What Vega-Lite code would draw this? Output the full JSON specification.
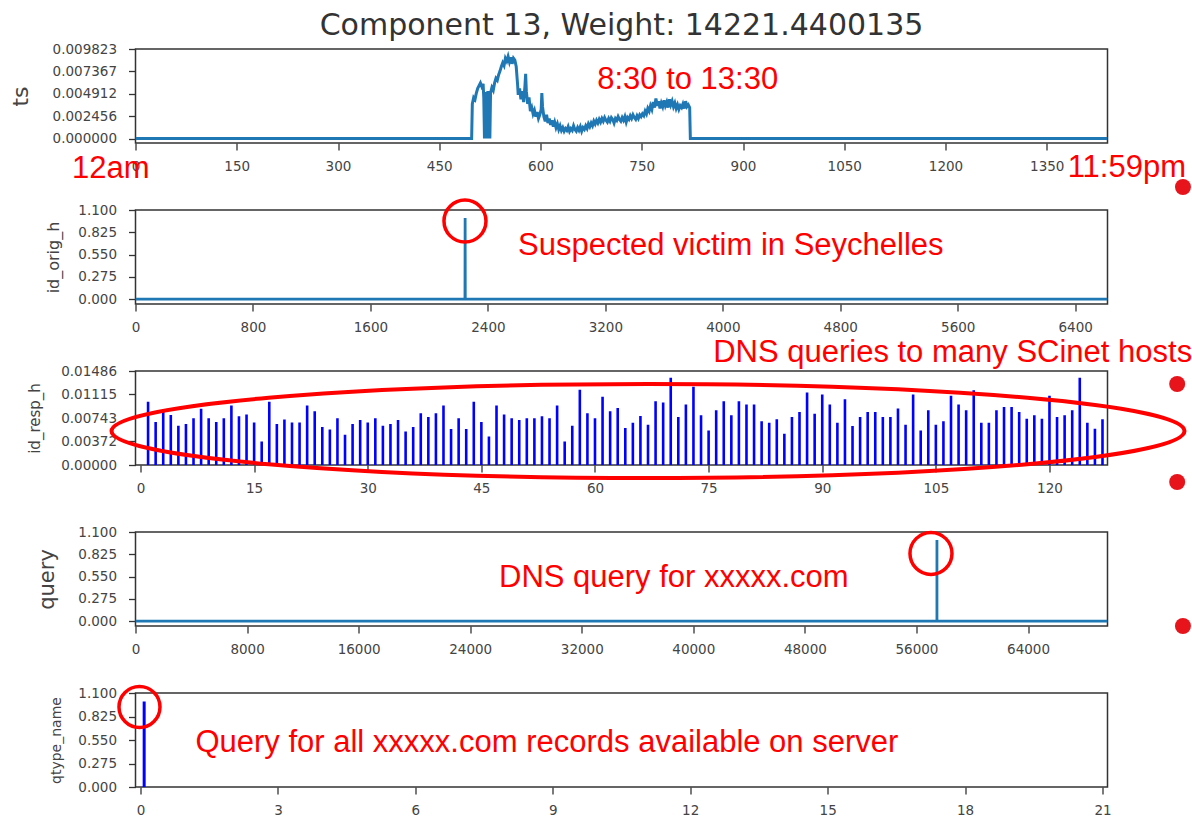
{
  "$schema": "https://vega.github.io/schema/vega-lite/v6.json",
  "background": "white",
  "padding": {"left": 8.5, "top": 10, "right": 0, "bottom": 0},
  "spacing": 67,
  "bounds": "flush",
  "config": {
    "view": {"stroke": "#333", "strokeWidth": 1.5},
    "axis": {"domain": false, "grid": false, "tickColor": "#333", "tickWidth": 1.3, "tickCount": 20, "labelFont": "DejaVu Sans", "labelFontSize": 13.5, "labelColor": "#444", "titleFont": "DejaVu Sans", "titleFontWeight": "normal", "titleColor": "#444", "labelOverlap": false, "labelFlush": false, "labelBound": false},
    "axisX": {"tickSize": 7, "labelPadding": 9, "format": "d"},
    "axisY": {"tickSize": 7, "labelPadding": 12, "titleBaseline": "alphabetic"}
  },
  "datasets": {
    "ts": [
      {"minute": 0, "value": 0}, {"minute": 498, "value": 0}, {"minute": 499, "value": 0.0038}, {"minute": 501, "value": 0.0045}, {"minute": 503, "value": 0.0043}, {"minute": 505, "value": 0.005}, {"minute": 507, "value": 0.0055}, {"minute": 509, "value": 0.0058}, {"minute": 511, "value": 0.0061}, {"minute": 513, "value": 0.0057}, {"minute": 515, "value": 0.006}, {"minute": 516, "value": 0.0044}, {"minute": 517, "value": 0}, {"minute": 518, "value": 0.0051}, {"minute": 519, "value": 0}, {"minute": 520, "value": 0.0048}, {"minute": 521, "value": 0}, {"minute": 522, "value": 0.0052}, {"minute": 523, "value": 0}, {"minute": 524, "value": 0.0049}, {"minute": 525, "value": 0}, {"minute": 526, "value": 0.005}, {"minute": 528, "value": 0.0056}, {"minute": 530, "value": 0.0053}, {"minute": 532, "value": 0.0061}, {"minute": 534, "value": 0.0066}, {"minute": 536, "value": 0.0064}, {"minute": 538, "value": 0.007}, {"minute": 540, "value": 0.0074}, {"minute": 542, "value": 0.0079}, {"minute": 544, "value": 0.0083}, {"minute": 546, "value": 0.008}, {"minute": 548, "value": 0.0088}, {"minute": 550, "value": 0.0085}, {"minute": 552, "value": 0.009}, {"minute": 554, "value": 0.0084}, {"minute": 556, "value": 0.0089}, {"minute": 558, "value": 0.0082}, {"minute": 560, "value": 0.0088}, {"minute": 562, "value": 0.0086}, {"minute": 564, "value": 0.0079}, {"minute": 566, "value": 0.006}, {"minute": 567, "value": 0.0048}, {"minute": 569, "value": 0.0055}, {"minute": 571, "value": 0.0043}, {"minute": 573, "value": 0.0052}, {"minute": 575, "value": 0.004}, {"minute": 577, "value": 0.0058}, {"minute": 578, "value": 0.0071}, {"minute": 579, "value": 0.0052}, {"minute": 581, "value": 0.0038}, {"minute": 583, "value": 0.0045}, {"minute": 585, "value": 0.003}, {"minute": 587, "value": 0.0034}, {"minute": 589, "value": 0.0027}, {"minute": 591, "value": 0.0031}, {"minute": 593, "value": 0.0024}, {"minute": 595, "value": 0.0029}, {"minute": 597, "value": 0.0022}, {"minute": 599, "value": 0.0026}, {"minute": 601, "value": 0.0032}, {"minute": 602, "value": 0.005}, {"minute": 603, "value": 0.0035}, {"minute": 605, "value": 0.0024}, {"minute": 607, "value": 0.0019}, {"minute": 609, "value": 0.0026}, {"minute": 611, "value": 0.0017}, {"minute": 613, "value": 0.0022}, {"minute": 615, "value": 0.0015}, {"minute": 617, "value": 0.002}, {"minute": 619, "value": 0.0013}, {"minute": 621, "value": 0.0018}, {"minute": 623, "value": 0.0012}, {"minute": 625, "value": 0.0016}, {"minute": 627, "value": 0.001}, {"minute": 629, "value": 0.0014}, {"minute": 631, "value": 0.0009}, {"minute": 633, "value": 0.0012}, {"minute": 635, "value": 0.0008}, {"minute": 637, "value": 0.0011}, {"minute": 639, "value": 0.0009}, {"minute": 641, "value": 0.0013}, {"minute": 643, "value": 0.0008}, {"minute": 645, "value": 0.0011}, {"minute": 647, "value": 0.0009}, {"minute": 649, "value": 0.0014}, {"minute": 651, "value": 0.001}, {"minute": 653, "value": 0.0008}, {"minute": 655, "value": 0.0012}, {"minute": 657, "value": 0.0009}, {"minute": 659, "value": 0.0013}, {"minute": 661, "value": 0.0008}, {"minute": 663, "value": 0.0012}, {"minute": 665, "value": 0.001}, {"minute": 667, "value": 0.0014}, {"minute": 669, "value": 0.0011}, {"minute": 671, "value": 0.0016}, {"minute": 673, "value": 0.0013}, {"minute": 675, "value": 0.0017}, {"minute": 677, "value": 0.0014}, {"minute": 679, "value": 0.0019}, {"minute": 681, "value": 0.0016}, {"minute": 683, "value": 0.002}, {"minute": 685, "value": 0.0017}, {"minute": 687, "value": 0.0021}, {"minute": 689, "value": 0.0018}, {"minute": 691, "value": 0.0022}, {"minute": 693, "value": 0.0019}, {"minute": 695, "value": 0.0023}, {"minute": 697, "value": 0.002}, {"minute": 699, "value": 0.0018}, {"minute": 701, "value": 0.0022}, {"minute": 703, "value": 0.0019}, {"minute": 705, "value": 0.0023}, {"minute": 707, "value": 0.0021}, {"minute": 709, "value": 0.0017}, {"minute": 711, "value": 0.0022}, {"minute": 713, "value": 0.002}, {"minute": 715, "value": 0.0024}, {"minute": 717, "value": 0.0021}, {"minute": 719, "value": 0.0019}, {"minute": 721, "value": 0.0023}, {"minute": 723, "value": 0.002}, {"minute": 725, "value": 0.0024}, {"minute": 727, "value": 0.0018}, {"minute": 729, "value": 0.0023}, {"minute": 731, "value": 0.0021}, {"minute": 733, "value": 0.0025}, {"minute": 735, "value": 0.0022}, {"minute": 737, "value": 0.0026}, {"minute": 739, "value": 0.0023}, {"minute": 741, "value": 0.0021}, {"minute": 743, "value": 0.0025}, {"minute": 745, "value": 0.0022}, {"minute": 747, "value": 0.0026}, {"minute": 749, "value": 0.0024}, {"minute": 751, "value": 0.0027}, {"minute": 753, "value": 0.0025}, {"minute": 755, "value": 0.003}, {"minute": 757, "value": 0.0027}, {"minute": 759, "value": 0.0033}, {"minute": 761, "value": 0.003}, {"minute": 763, "value": 0.0036}, {"minute": 765, "value": 0.0032}, {"minute": 767, "value": 0.004}, {"minute": 769, "value": 0.0034}, {"minute": 771, "value": 0.0044}, {"minute": 773, "value": 0.0036}, {"minute": 775, "value": 0.0041}, {"minute": 777, "value": 0.0033}, {"minute": 779, "value": 0.0039}, {"minute": 781, "value": 0.0035}, {"minute": 783, "value": 0.0042}, {"minute": 785, "value": 0.0036}, {"minute": 787, "value": 0.004}, {"minute": 789, "value": 0.0034}, {"minute": 791, "value": 0.0043}, {"minute": 793, "value": 0.0037}, {"minute": 795, "value": 0.0041}, {"minute": 797, "value": 0.0035}, {"minute": 799, "value": 0.0039}, {"minute": 801, "value": 0.0033}, {"minute": 803, "value": 0.0037}, {"minute": 805, "value": 0.0032}, {"minute": 807, "value": 0.0036}, {"minute": 809, "value": 0.0034}, {"minute": 811, "value": 0.0038}, {"minute": 813, "value": 0.0033}, {"minute": 815, "value": 0.0041}, {"minute": 817, "value": 0.0035}, {"minute": 819, "value": 0.0037}, {"minute": 821, "value": 0.0034}, {"minute": 822, "value": 0}, {"minute": 1440, "value": 0}
    ],
    "ts_notes": [
      {"x": -94, "y": -0.0033, "label": "12am"},
      {"x": 684, "y": 0.00638, "label": "8:30 to 13:30"},
      {"x": 1381, "y": -0.0032, "label": "11:59pm"}
    ],
    "orig": [
      {"idx": 0, "value": 0}, {"idx": 2244, "value": 0}, {"idx": 2245, "value": 1.0}, {"idx": 2246, "value": 0}, {"idx": 6620, "value": 0}
    ],
    "orig_notes": [
      {"x": 2605, "y": 0.656, "label": "Suspected victim in Seychelles"}
    ],
    "orig_circles": [
      {"x": 2244, "y": 0.964}
    ],
    "orig_dots": [
      {"x": 7134, "y": 1.384}
    ],
    "resp": [
      {"idx": 1, "value": 0.0100}, {"idx": 2, "value": 0.0068}, {"idx": 3, "value": 0.0087}, {"idx": 4, "value": 0.0079}, {"idx": 5, "value": 0.0062}, {"idx": 6, "value": 0.0065}, {"idx": 7, "value": 0.0074}, {"idx": 8, "value": 0.0089}, {"idx": 9, "value": 0.0074}, {"idx": 10, "value": 0.0068},
      {"idx": 11, "value": 0.0074}, {"idx": 12, "value": 0.0094}, {"idx": 13, "value": 0.0077}, {"idx": 14, "value": 0.0080}, {"idx": 15, "value": 0.0067}, {"idx": 16, "value": 0.0037}, {"idx": 17, "value": 0.0100}, {"idx": 18, "value": 0.0065}, {"idx": 19, "value": 0.0072}, {"idx": 20, "value": 0.0067},
      {"idx": 21, "value": 0.0067}, {"idx": 22, "value": 0.0094}, {"idx": 23, "value": 0.0085}, {"idx": 24, "value": 0.0060}, {"idx": 25, "value": 0.0056}, {"idx": 26, "value": 0.0074}, {"idx": 27, "value": 0.0048}, {"idx": 28, "value": 0.0065}, {"idx": 29, "value": 0.0071}, {"idx": 30, "value": 0.0067},
      {"idx": 31, "value": 0.0074}, {"idx": 32, "value": 0.0062}, {"idx": 33, "value": 0.0065}, {"idx": 34, "value": 0.0071}, {"idx": 35, "value": 0.0053}, {"idx": 36, "value": 0.0060}, {"idx": 37, "value": 0.0082}, {"idx": 38, "value": 0.0076}, {"idx": 39, "value": 0.0082}, {"idx": 40, "value": 0.0094},
      {"idx": 41, "value": 0.0057}, {"idx": 42, "value": 0.0074}, {"idx": 43, "value": 0.0057}, {"idx": 44, "value": 0.0100}, {"idx": 45, "value": 0.0068}, {"idx": 46, "value": 0.0045}, {"idx": 47, "value": 0.0094}, {"idx": 48, "value": 0.0080}, {"idx": 49, "value": 0.0074}, {"idx": 50, "value": 0.0071},
      {"idx": 51, "value": 0.0074}, {"idx": 52, "value": 0.0074}, {"idx": 53, "value": 0.0077}, {"idx": 54, "value": 0.0074}, {"idx": 55, "value": 0.0094}, {"idx": 56, "value": 0.0037}, {"idx": 57, "value": 0.0062}, {"idx": 58, "value": 0.0119}, {"idx": 59, "value": 0.0082}, {"idx": 60, "value": 0.0074},
      {"idx": 61, "value": 0.01077}, {"idx": 62, "value": 0.00849}, {"idx": 63, "value": 0.00902}, {"idx": 64, "value": 0.00584}, {"idx": 65, "value": 0.00669}, {"idx": 66, "value": 0.00775}, {"idx": 67, "value": 0.00637}, {"idx": 68, "value": 0.01008}, {"idx": 69, "value": 0.00987}, {"idx": 70, "value": 0.0138},
      {"idx": 71, "value": 0.00759}, {"idx": 72, "value": 0.00955}, {"idx": 73, "value": 0.01237}, {"idx": 74, "value": 0.00785}, {"idx": 75, "value": 0.00547}, {"idx": 76, "value": 0.00865}, {"idx": 77, "value": 0.01008}, {"idx": 78, "value": 0.00785}, {"idx": 79, "value": 0.01008}, {"idx": 80, "value": 0.00955},
      {"idx": 81, "value": 0.00955}, {"idx": 82, "value": 0.0069}, {"idx": 83, "value": 0.00669}, {"idx": 84, "value": 0.00722}, {"idx": 85, "value": 0.00494}, {"idx": 86, "value": 0.00759}, {"idx": 87, "value": 0.00838}, {"idx": 88, "value": 0.01146}, {"idx": 89, "value": 0.00812}, {"idx": 90, "value": 0.01114},
      {"idx": 91, "value": 0.00955}, {"idx": 92, "value": 0.00669}, {"idx": 93, "value": 0.0104}, {"idx": 94, "value": 0.00616}, {"idx": 95, "value": 0.00759}, {"idx": 96, "value": 0.00838}, {"idx": 97, "value": 0.00838}, {"idx": 98, "value": 0.00759}, {"idx": 99, "value": 0.00759}, {"idx": 100, "value": 0.00892},
      {"idx": 101, "value": 0.00637}, {"idx": 102, "value": 0.01114}, {"idx": 103, "value": 0.00547}, {"idx": 104, "value": 0.00865}, {"idx": 105, "value": 0.00637}, {"idx": 106, "value": 0.0069}, {"idx": 107, "value": 0.01093}, {"idx": 108, "value": 0.00955}, {"idx": 109, "value": 0.00865}, {"idx": 110, "value": 0.01183},
      {"idx": 111, "value": 0.00669}, {"idx": 112, "value": 0.00669}, {"idx": 113, "value": 0.00865}, {"idx": 114, "value": 0.00918}, {"idx": 115, "value": 0.00918}, {"idx": 116, "value": 0.00838}, {"idx": 117, "value": 0.00732}, {"idx": 118, "value": 0.00785}, {"idx": 119, "value": 0.00732}, {"idx": 120, "value": 0.01093},
      {"idx": 121, "value": 0.00759}, {"idx": 122, "value": 0.00785}, {"idx": 123, "value": 0.00865}, {"idx": 124, "value": 0.0138}, {"idx": 125, "value": 0.00669}, {"idx": 126, "value": 0.00573}, {"idx": 127, "value": 0.00722}
    ],
    "resp_notes": [
      {"x": 75.6, "y": 0.0177, "label": "DNS queries to many SCinet hosts"}
    ],
    "resp_ellipse": [
      {"x": 67.0, "y": 0.005375}
    ],
    "resp_dots": [
      {"x": 136.86, "y": 0.012805}, {"x": 136.86, "y": -0.002687}
    ],
    "query": [
      {"idx": 0, "value": 0}, {"idx": 57469, "value": 0}, {"idx": 57470, "value": 1.0}, {"idx": 57471, "value": 0}, {"idx": 69700, "value": 0}
    ],
    "query_notes": [
      {"x": 26065, "y": 0.532, "label": "DNS query for xxxxx.com"}
    ],
    "query_circles": [
      {"x": 57042, "y": 0.835}
    ],
    "query_dots": [
      {"x": 75111, "y": -0.06}
    ],
    "qtype": [
      {"idx": 0.08, "value": 1.0}
    ],
    "qtype_notes": [
      {"x": 1.199, "y": 0.515, "label": "Query for all xxxxx.com records available on server"}
    ],
    "qtype_circles": [
      {"x": -0.022, "y": 0.936}
    ]
  },
  "vconcat": [
    {
      "width": 972,
      "height": 94,
      "title": {"text": "Component 13, Weight: 14221.4400135", "font": "DejaVu Sans", "fontSize": 30, "fontWeight": "normal", "color": "#333", "anchor": "middle", "offset": 1},
      "layer": [
        {
          "data": {"name": "ts"},
          "mark": {"type": "line", "color": "#1f77b4", "strokeWidth": 3, "clip": true},
          "encoding": {
            "x": {"field": "minute", "type": "quantitative", "scale": {"domain": [0, 1440], "nice": false, "zero": false}, "axis": {"title": null, "values": [0, 150, 300, 450, 600, 750, 900, 1050, 1200, 1350]}},
            "y": {"field": "value", "type": "quantitative", "scale": {"domain": [-0.00049, 0.009823], "nice": false, "zero": false}, "axis": {"title": "ts", "titleFontSize": 22, "titleX": -108, "values": [0, 0.002456, 0.004912, 0.007367, 0.009823], "format": ".6f"}}
          }
        },
        {
          "data": {"name": "ts_notes"},
          "mark": {"type": "text", "color": "#ff0000", "font": "Liberation Sans", "fontSize": 31, "align": "left", "baseline": "middle"},
          "encoding": {
            "x": {"field": "x", "type": "quantitative"},
            "y": {"field": "y", "type": "quantitative"},
            "text": {"field": "label"}
          }
        }
      ]
    },
    {
      "width": 972,
      "height": 94,
      "layer": [
        {
          "data": {"name": "orig"},
          "mark": {"type": "line", "color": "#1f77b4", "strokeWidth": 2.8, "clip": true},
          "encoding": {
            "x": {"field": "idx", "type": "quantitative", "scale": {"domain": [0, 6620], "nice": false, "zero": false}, "axis": {"title": null, "values": [0, 800, 1600, 2400, 3200, 4000, 4800, 5600, 6400]}},
            "y": {"field": "value", "type": "quantitative", "scale": {"domain": [-0.06, 1.1], "nice": false, "zero": false}, "axis": {"title": "id_orig_h", "titleFontSize": 16, "titleX": -77, "values": [0, 0.275, 0.55, 0.825, 1.1], "format": ".3f"}}
          }
        },
        {
          "data": {"name": "orig_circles"},
          "mark": {"type": "point", "shape": "circle", "filled": false, "stroke": "#ff0000", "strokeWidth": 3.5, "size": 1764, "opacity": 1},
          "encoding": {"x": {"field": "x", "type": "quantitative"}, "y": {"field": "y", "type": "quantitative"}}
        },
        {
          "data": {"name": "orig_dots"},
          "mark": {"type": "point", "shape": "circle", "filled": true, "color": "#e8141b", "size": 256, "opacity": 1},
          "encoding": {"x": {"field": "x", "type": "quantitative"}, "y": {"field": "y", "type": "quantitative"}}
        },
        {
          "data": {"name": "orig_notes"},
          "mark": {"type": "text", "color": "#ff0000", "font": "Liberation Sans", "fontSize": 31, "align": "left", "baseline": "middle"},
          "encoding": {"x": {"field": "x", "type": "quantitative"}, "y": {"field": "y", "type": "quantitative"}, "text": {"field": "label"}}
        }
      ]
    },
    {
      "width": 972,
      "height": 94,
      "layer": [
        {
          "data": {"name": "resp"},
          "mark": {"type": "bar", "color": "#0000ff", "size": 2.6, "clip": true},
          "encoding": {
            "x": {"field": "idx", "type": "quantitative", "scale": {"domain": [0, 127], "nice": false, "zero": false}, "axis": {"title": null, "values": [0, 15, 30, 45, 60, 75, 90, 105, 120]}},
            "y": {"field": "value", "type": "quantitative", "scale": {"domain": [0, 0.01486], "nice": false, "zero": false}, "axis": {"title": "id_resp_h", "titleFontSize": 15, "titleX": -96, "values": [0, 0.00372, 0.00743, 0.01115, 0.01486], "format": ".5f"}}
          }
        },
        {
          "data": {"name": "resp_ellipse"},
          "mark": {"type": "point", "shape": "M -1 0 C -1 -0.04838 -0.5523 -0.0876 0 -0.0876 C 0.5523 -0.0876 1 -0.04838 1 0 C 1 0.04838 0.5523 0.0876 0 0.0876 C -0.5523 0.0876 -1 0.04838 -1 0 Z", "filled": false, "stroke": "#ff0000", "strokeWidth": 4, "size": 1151329, "opacity": 1},
          "encoding": {"x": {"field": "x", "type": "quantitative"}, "y": {"field": "y", "type": "quantitative"}}
        },
        {
          "data": {"name": "resp_dots"},
          "mark": {"type": "point", "shape": "circle", "filled": true, "color": "#e8141b", "size": 256, "opacity": 1},
          "encoding": {"x": {"field": "x", "type": "quantitative"}, "y": {"field": "y", "type": "quantitative"}}
        },
        {
          "data": {"name": "resp_notes"},
          "mark": {"type": "text", "color": "#ff0000", "font": "Liberation Sans", "fontSize": 31, "align": "left", "baseline": "middle"},
          "encoding": {"x": {"field": "x", "type": "quantitative"}, "y": {"field": "y", "type": "quantitative"}, "text": {"field": "label"}}
        }
      ]
    },
    {
      "width": 972,
      "height": 94,
      "layer": [
        {
          "data": {"name": "query"},
          "mark": {"type": "line", "color": "#1f77b4", "strokeWidth": 2.8, "clip": true},
          "encoding": {
            "x": {"field": "idx", "type": "quantitative", "scale": {"domain": [0, 69700], "nice": false, "zero": false}, "axis": {"title": null, "values": [0, 8000, 16000, 24000, 32000, 40000, 48000, 56000, 64000]}},
            "y": {"field": "value", "type": "quantitative", "scale": {"domain": [-0.06, 1.1], "nice": false, "zero": false}, "axis": {"title": "query", "titleFontSize": 21, "titleX": -82, "values": [0, 0.275, 0.55, 0.825, 1.1], "format": ".3f"}}
          }
        },
        {
          "data": {"name": "query_circles"},
          "mark": {"type": "point", "shape": "circle", "filled": false, "stroke": "#ff0000", "strokeWidth": 3.5, "size": 1764, "opacity": 1},
          "encoding": {"x": {"field": "x", "type": "quantitative"}, "y": {"field": "y", "type": "quantitative"}}
        },
        {
          "data": {"name": "query_dots"},
          "mark": {"type": "point", "shape": "circle", "filled": true, "color": "#e8141b", "size": 256, "opacity": 1},
          "encoding": {"x": {"field": "x", "type": "quantitative"}, "y": {"field": "y", "type": "quantitative"}}
        },
        {
          "data": {"name": "query_notes"},
          "mark": {"type": "text", "color": "#ff0000", "font": "Liberation Sans", "fontSize": 31, "align": "left", "baseline": "middle"},
          "encoding": {"x": {"field": "x", "type": "quantitative"}, "y": {"field": "y", "type": "quantitative"}, "text": {"field": "label"}}
        }
      ]
    },
    {
      "width": 972,
      "height": 94,
      "layer": [
        {
          "data": {"name": "qtype"},
          "mark": {"type": "bar", "color": "#0000ff", "size": 3, "clip": true},
          "encoding": {
            "x": {"field": "idx", "type": "quantitative", "scale": {"domain": [0, 21], "nice": false, "zero": false}, "axis": {"title": null, "values": [0, 3, 6, 9, 12, 15, 18, 21]}},
            "y": {"field": "value", "type": "quantitative", "scale": {"domain": [0, 1.1], "nice": false, "zero": false}, "axis": {"title": "qtype_name", "titleFontSize": 14, "titleX": -75, "values": [0, 0.275, 0.55, 0.825, 1.1], "format": ".3f"}}
          }
        },
        {
          "data": {"name": "qtype_circles"},
          "mark": {"type": "point", "shape": "circle", "filled": false, "stroke": "#ff0000", "strokeWidth": 3.5, "size": 1681, "opacity": 1},
          "encoding": {"x": {"field": "x", "type": "quantitative"}, "y": {"field": "y", "type": "quantitative"}}
        },
        {
          "data": {"name": "qtype_notes"},
          "mark": {"type": "text", "color": "#ff0000", "font": "Liberation Sans", "fontSize": 31, "align": "left", "baseline": "middle"},
          "encoding": {"x": {"field": "x", "type": "quantitative"}, "y": {"field": "y", "type": "quantitative"}, "text": {"field": "label"}}
        }
      ]
    }
  ]
}
